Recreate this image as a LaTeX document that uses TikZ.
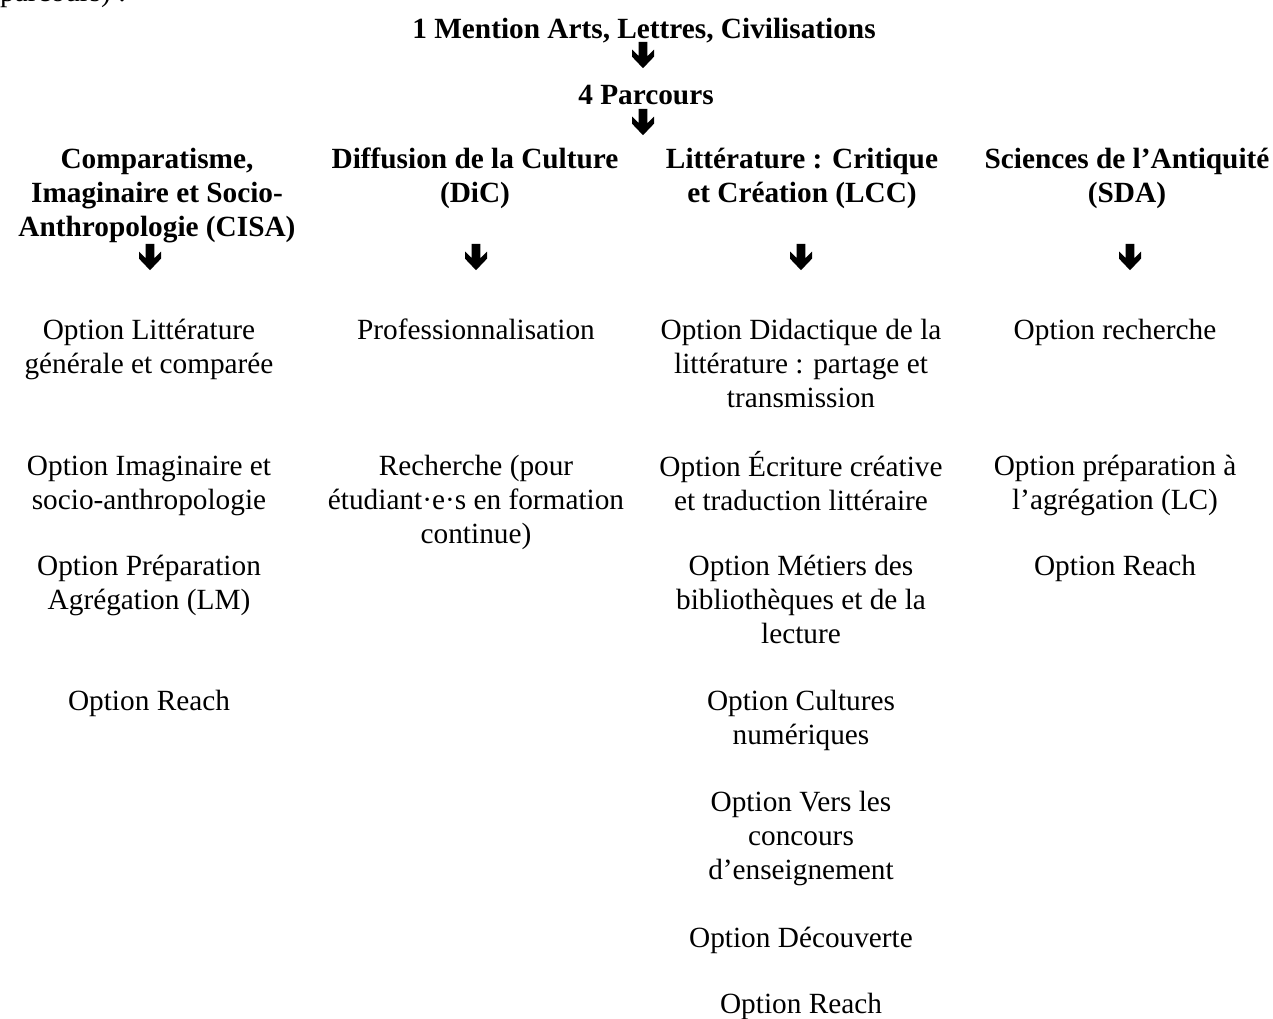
\documentclass[tikz,border=0pt]{standalone}
\usepackage{fontspec}
\setmainfont{Liberation Serif}

\newcommand{\txtsize}{\fontsize{29.3}{34}\selectfont}

\tikzset{
    block arrow/.pic={
        \fill[scale=1.1] (-4,-12) -- (4,-12) -- (4,1) -- (10,-5) -- (10,1.5) -- (0,12)
            -- (-10,1.5) -- (-10,-5) -- (-4,1) -- cycle;
    }
}

\begin{document}
\begin{tikzpicture}[x=1pt,y=-1pt]
    % Styles
    \tikzstyle{title text} = [font=\txtsize\bfseries, align=center, inner sep=0pt, anchor=north]
    \tikzstyle{option text} = [font=\txtsize, align=center, inner sep=0pt, anchor=north]

    %%% Frame
    \clip (0,0) rectangle (1273,1018);
    \useasboundingbox (0,0) rectangle (1273,1018);

    %%% Text cut at the top
    \node[font=\txtsize, inner sep=0pt, anchor=base west] (cut) at (0,1) {parcours) :};

    %%% Top
    \node[title text] (mention) at (644,14) {\strut 1 Mention Arts, Lettres, Civilisations};
    \node[title text] (parcours) at (646,80) {\strut 4 Parcours};

    %%% Parcours
    \node[title text] (cisa) at (157,144) {\strut Comparatisme,\\Imaginaire et Socio-\\Anthropologie (CISA)};
    \node[title text] (dic) at (475,144) {\strut Diffusion de la Culture\\(DiC)};
    \node[title text] (lcc) at (802,144) {\strut Littérature : Critique\\et Création (LCC)};
    \node[title text] (sda) at (1127,144) {\strut Sciences de l’Antiquité\\(SDA)};

    %%% Arrows
    \foreach \name/\x/\y in {arMention/643/55, arParcours/643/122,
        arCisa/150/257, arDic/476/257, arLcc/801/257, arSda/1130/257}
    {
        \coordinate (\name) at (\x,\y);
        \pic at (\name) {block arrow};
    }

    %%% Options CISA
    \node[option text] (cisaA) at (149,315) {\strut Option Littérature\\générale et comparée};
    \node[option text] (cisaB) at (149,451) {\strut Option Imaginaire et\\socio-anthropologie};
    \node[option text] (cisaC) at (149,551) {\strut Option Préparation\\Agrégation (LM)};
    \node[option text] (cisaD) at (149,686) {\strut Option Reach};

    %%% Options DiC
    \node[option text] (dicA) at (476,315) {\strut Professionnalisation};
    \node[option text] (dicB) at (476,451) {\strut Recherche (pour\\étudiant·e·s en formation\\continue)};

    %%% Options LCC
    \node[option text] (lccA) at (801,315) {\strut Option Didactique de la\\littérature : partage et\\transmission};
    \node[option text] (lccB) at (801,451) {\strut Option Écriture créative\\et traduction littéraire};
    \node[option text] (lccC) at (801,551) {\strut Option Métiers des\\bibliothèques et de la\\lecture};
    \node[option text] (lccD) at (801,686) {\strut Option Cultures\\numériques};
    \node[option text] (lccE) at (801,787) {\strut Option Vers les\\concours\\d’enseignement};
    \node[option text] (lccF) at (801,923) {\strut Option Découverte};
    \node[option text] (lccG) at (801,993) {Option Reach};

    %%% Options SDA
    \node[option text] (sdaA) at (1115,315) {\strut Option recherche};
    \node[option text] (sdaB) at (1115,451) {\strut Option préparation à\\l’agrégation (LC)};
    \node[option text] (sdaC) at (1115,551) {\strut Option Reach};
\end{tikzpicture}
\end{document}
